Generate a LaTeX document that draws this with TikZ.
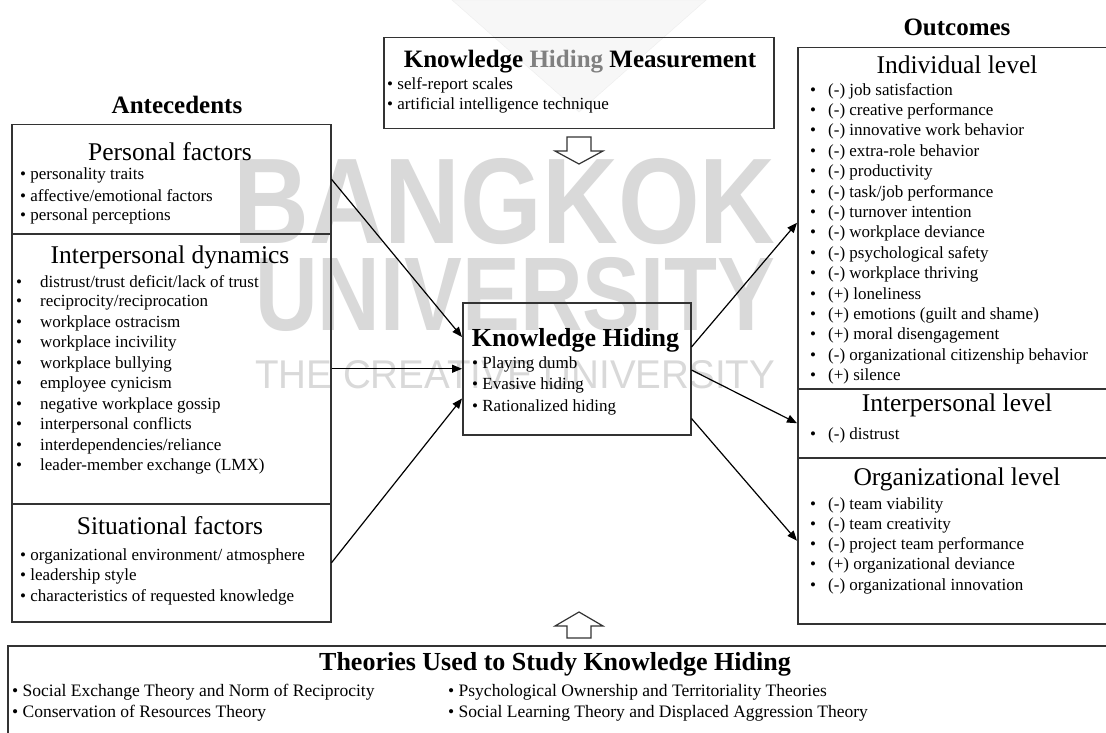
\documentclass[tikz,border=0pt]{standalone}
\usepackage{fontspec}
\usepackage{graphicx}
\setmainfont{Liberation Serif}
\newfontfamily\wmfont{Liberation Sans}
\usetikzlibrary{arrows.meta,calc}
\definecolor{hidgray}{gray}{0.5}
\tikzset{
  box/.style={draw=black!80,line width=1.5pt,inner sep=0pt,anchor=north west},
  ttl/.style={inner sep=0pt,font=\fontsize{25.5}{28}\selectfont},
  btl/.style={inner sep=0pt,font=\fontsize{25}{28}\selectfont\bfseries},
  itm/.style={inner sep=0pt,anchor=west,font=\fontsize{17}{20}\selectfont},
  bitm/.style={itm,font=\fontsize{17.5}{20}\selectfont},
  arr/.style={draw=black,line width=1.2pt,-{Triangle[length=10pt,width=8pt]}},
  hollow/.style={draw=black!80,line width=1.2pt,fill=white},
  wm/.style={inner sep=0pt,anchor=north west,text=black!15,font=\wmfont},
}
\newcommand{\tb}[1]{\makebox[#1][l]{•}}
\begin{document}
\begin{tikzpicture}[x=1pt,y=-1pt]
\useasboundingbox (0,0) rectangle (1106,733);
\clip (0,0) rectangle (1106,733);
\fill[white] (0,0) rectangle (1106,733);
% watermark
\filldraw[fill=black!3,draw=black!7] (452,0) -- (706,0) -- (579,112) -- cycle;
\node[wm] (wm1) at (233,158) {\resizebox{542pt}{85pt}{\bfseries BANGKOK}};
\node[wm] (wm2) at (255,257) {\resizebox{520pt}{73pt}{\bfseries UNIVERSITY}};
\node[wm] (wm3) at (255,360) {\resizebox{520pt}{28pt}{THE CREATIVE UNIVERSITY}};

% boxes
\node[box,minimum width=319pt,minimum height=109pt] (pers) at (11,124) {};
\node[box,minimum width=319pt,minimum height=270pt] (inter) at (11,233) {};
\node[box,minimum width=319pt,minimum height=118pt] (situ) at (11,503) {};
\node[box,minimum width=390pt,minimum height=91pt] (meas) at (383,37) {};
\node[box,minimum width=228pt,minimum height=132pt] (kh) at (462,302) {};
\node[box,minimum width=320pt,minimum height=341pt] (indiv) at (797,47) {};
\node[box,minimum width=320pt,minimum height=69pt] (interp) at (797,388) {};
\node[box,minimum width=320pt,minimum height=166pt] (org) at (797,457) {};
\node[box,minimum width=1110pt,minimum height=100pt] (theo) at (7,645) {};

% hollow block arrows
\draw[hollow] (567,137) -- (591,137) -- (591,151) -- (603,151) -- (579,164) -- (555,151) -- (567,151) -- cycle;
\draw[hollow] (567,638) -- (591,638) -- (591,626) -- (603,626) -- (579,612) -- (555,626) -- (567,626) -- cycle;

% headings
\node[btl] (antT) at (177,105) {Antecedents};
\node[btl] (outT) at (957,27) {Outcomes};

% antecedents
\node[ttl] (persT) at (170,152) {Personal factors};
\node[itm] (p1) at (20,175) {• personality traits};
\node[itm] (p2) at (20,195.5) {• affective/emotional factors};
\node[itm] (p3) at (20,216) {• personal perceptions};

\node[ttl] (interT) at (170,257) {Interpersonal dynamics};
\node[itm] (i1) at (16,282) {\tb{24pt}distrust/trust deficit/lack of trust};
\node[itm] (i2) at (16,302.5) {\tb{24pt}reciprocity/reciprocation};
\node[itm] (i3) at (16,323) {\tb{24pt}workplace ostracism};
\node[itm] (i4) at (16,343.5) {\tb{24pt}workplace incivility};
\node[itm] (i5) at (16,364) {\tb{24pt}workplace bullying};
\node[itm] (i6) at (16,384.5) {\tb{24pt}employee cynicism};
\node[itm] (i7) at (16,405) {\tb{24pt}negative workplace gossip};
\node[itm] (i8) at (16,425.5) {\tb{24pt}interpersonal conflicts};
\node[itm] (i9) at (16,446) {\tb{24pt}interdependencies/reliance};
\node[itm] (i10) at (16,466.5) {\tb{24pt}leader-member exchange (LMX)};

\node[ttl] (situT) at (170,526) {Situational factors};
\node[itm] (s1) at (20,556) {• organizational environment/ atmosphere};
\node[itm] (s2) at (20,576.5) {• leadership style};
\node[itm] (s3) at (20,597) {• characteristics of requested knowledge};

% measurement
\node[btl] (measT) at (580,62) {Knowledge {\color{hidgray}Hiding} Measurement};
\node[itm] (m1) at (387,85) {• self-report scales};
\node[itm] (m2) at (387,105) {• artificial intelligence technique};

% knowledge hiding
\node[btl,font=\fontsize{26}{28}\selectfont\bfseries] (khT) at (575.5,340) {Knowledge Hiding};
\node[itm] (k1) at (472,364) {• Playing dumb};
\node[itm] (k2) at (472,385.5) {• Evasive hiding};
\node[itm] (k3) at (472,407) {• Rationalized hiding};

% outcomes
\node[ttl] (indT) at (957,65) {Individual level};
\node[itm] (o1) at (810,91) {\tb{18pt}(-) job satisfaction};
\node[itm] (o2) at (810,111.4) {\tb{18pt}(-) creative performance};
\node[itm] (o3) at (810,131.8) {\tb{18pt}(-) innovative work behavior};
\node[itm] (o4) at (810,152.2) {\tb{18pt}(-) extra-role behavior};
\node[itm] (o5) at (810,172.6) {\tb{18pt}(-) productivity};
\node[itm] (o6) at (810,193) {\tb{18pt}(-) task/job performance};
\node[itm] (o7) at (810,213.4) {\tb{18pt}(-) turnover intention};
\node[itm] (o8) at (810,233.8) {\tb{18pt}(-) workplace deviance};
\node[itm] (o9) at (810,254.2) {\tb{18pt}(-) psychological safety};
\node[itm] (o10) at (810,274.6) {\tb{18pt}(-) workplace thriving};
\node[itm] (o11) at (810,295) {\tb{18pt}(+) loneliness};
\node[itm] (o12) at (810,315.4) {\tb{18pt}(+) emotions (guilt and shame)};
\node[itm] (o13) at (810,335.8) {\tb{18pt}(+) moral disengagement};
\node[itm] (o14) at (810,356.2) {\tb{18pt}(-) organizational citizenship behavior};
\node[itm] (o15) at (810,376.6) {\tb{18pt}(+) silence};

\node[ttl] (ipT) at (957,405) {Interpersonal level};
\node[itm] (ip1) at (810,435) {\tb{18pt}(-) distrust};

\node[ttl] (orgT) at (957,479) {Organizational level};
\node[itm] (g1) at (810,505) {\tb{18pt}(-) team viability};
\node[itm] (g2) at (810,525.3) {\tb{18pt}(-) team creativity};
\node[itm] (g3) at (810,545.6) {\tb{18pt}(-) project team performance};
\node[itm] (g4) at (810,565.9) {\tb{18pt}(+) organizational deviance};
\node[itm] (g5) at (810,586.2) {\tb{18pt}(-) organizational innovation};

% theories
\node[btl,font=\fontsize{26}{28}\selectfont\bfseries] (theoT) at (555,664) {Theories Used to Study Knowledge Hiding};
\node[bitm] (t1) at (12,692) {• Social Exchange Theory and Norm of Reciprocity};
\node[bitm] (t2) at (12,713) {• Conservation of Resources Theory};
\node[bitm] (t3) at (448,692) {• Psychological Ownership and Territoriality Theories};
\node[bitm] (t4) at (448,713) {• Social Learning Theory and Displaced Aggression Theory};

% connectors
\draw[arr] (pers.east) -- ([yshift=-35pt]kh.north west);
\draw[arr] (inter.east) -- (inter.east -| kh.west);
\draw[arr] (situ.east) -- ([yshift=37pt]kh.south west);
\draw[arr] ([yshift=-45pt]kh.north east) -- ([yshift=-4.5pt]indiv.west);
\draw[arr] ([yshift=-68pt]kh.north east) -- (interp.west);
\draw[arr] ([yshift=17pt]kh.south east) -- (org.west);
\end{tikzpicture}
\end{document}
